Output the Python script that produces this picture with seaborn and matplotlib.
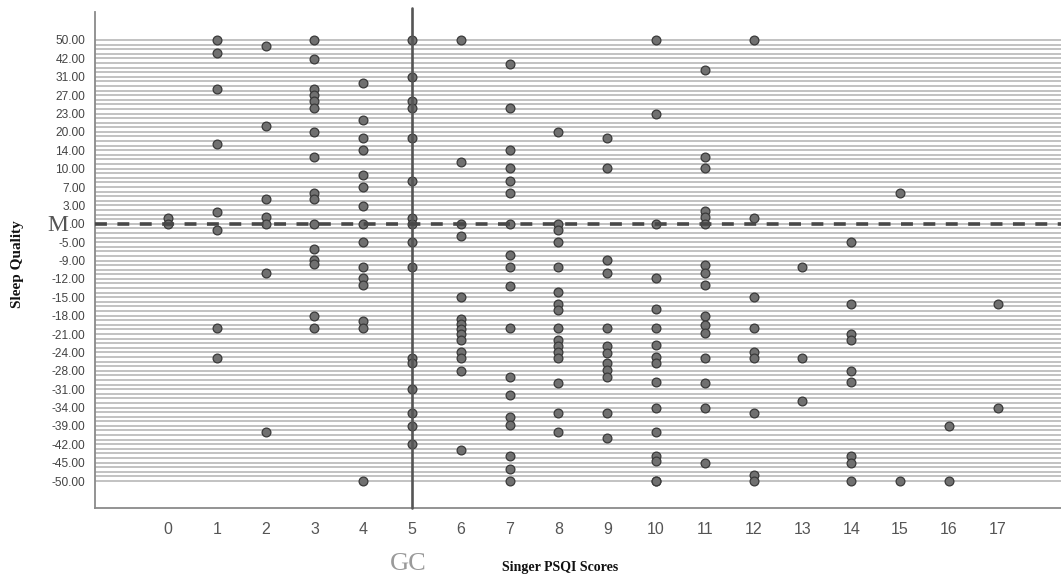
import numpy as np
import pandas as pd
import matplotlib
matplotlib.use("Agg")
import matplotlib.pyplot as plt
import seaborn as sns
from matplotlib.ticker import FixedLocator, FixedFormatter, NullFormatter

# ---- data: Sleep Quality values for each Singer PSQI score ----
q0 = [1.0, 0]
q1 = [50, 44.5, 28.3, 16, 2, -1.8, -20, -25.3]
q2 = [47.5, 21, 4.3, 1.1, 0, -11, -40]
q3 = [50, 41.6, 28.3, 27, 25.7, 24.3, 20, 12.6, 5.8, 4.3, 0, -6.4, -8.8, -9.6, -18, -20]
q4 = [29.6, 22, 17.9, 14.1, 9, 6.9, 2.9, 0, -5, -10.1, -11.9, -13, -18.9, -20, -50]
q5 = [50, 31, 25.7, 24.3, 17.9, 8, 0.9, 0, -5, -10.1, -25.3, -26.4, -31, -35.6, -39, -42]
q6 = [50, 11.4, 0, -3.4, -14.9, -18.5, -19.3, -20.2, -21, -22, -23.9, -25.3, -28, -43]
q7 = [38.4, 24.3, 14.1, 10.1, 8, 5.6, 0, -7.7, -10.1, -13.1, -20, -29, -32, -36.5, -38.8,
      -43.9, -46.6, -50]
q8 = [20, 0, -1.8, -5, -10.1, -14.1, -16.1, -17.1, -20, -22, -23, -23.9, -25.3, -30, -35.6, -40]
q9 = [17.9, 10.1, -8.9, -11, -20, -23, -24.1, -26.4, -27.8, -29, -35.6, -41]
q10 = [50, 23, 0, -11.9, -16.9, -20, -22.8, -25, -26.4, -29.9, -34, -40, -43.9, -44.8, -50, -50]
q11 = [35, 12.6, 10.1, 2.1, 1.1, 0, -9.8, -11, -13, -18, -19.6, -20.9, -25.3, -30, -34, -45]
q12 = [50, 1, -14.9, -20, -23.9, -25.3, -35.6, -48.3, -50]
q13 = [-10.1, -25.3, -33]
q14 = [-5, -16.1, -21, -22, -28, -29.9, -43.9, -45, -50]
q15 = [5.6, -50]
q16 = [-39, -50]
q17 = [-16.1, -34]

psqi_levels = list(range(18))
quality_columns = [q0, q1, q2, q3, q4, q5, q6, q7, q8, q9, q10, q11, q12, q13, q14, q15, q16, q17]

# labelled categories of the (categorical) sleep-quality axis, top to bottom
y_tick_values = [50, 42, 31, 27, 23, 20, 14, 10, 7, 3, 0, -5, -9, -12, -15, -18,
                 -21, -24, -28, -31, -34, -39, -42, -45, -50]
categories_per_label = 4

rows = []
for s, col in zip(psqi_levels, quality_columns):
    for v in col:
        rows.append((s, v))
df = pd.DataFrame(rows, columns=["Singer PSQI Scores", "Sleep Quality"])

# ---- categorical-position scale (piecewise linear between labelled categories) ----
n_lab = len(y_tick_values)
pos_desc = [categories_per_label * i for i in range(n_lab)]          # 0..96 top->bottom
idx_sorted = np.array([-10] + pos_desc + [pos_desc[-1] + 16], float)
val_for_idx = np.array([70] + y_tick_values + [-70], float)          # descending values
vals_asc = val_for_idx[::-1]
idx_for_vals_asc = idx_sorted[::-1]


def forward(v):
    return -np.interp(v, vals_asc, idx_for_vals_asc)


def inverse(p):
    return np.interp(-np.asarray(p, float), idx_sorted, val_for_idx)


# ---- figure ----
sns.set_style("white")
plt.rcParams["font.family"] = ["Liberation Sans", "DejaVu Sans"]

W, H = 1061, 580
fig = plt.figure(figsize=(W / 100, H / 100), dpi=100)
ax = fig.add_axes([95 / W, 1 - 508 / H, (W - 95) / W, (508 - 12) / H])

ax.set_yscale("function", functions=(forward, inverse))

sns.scatterplot(data=df, x="Singer PSQI Scores", y="Sleep Quality", ax=ax,
                s=40, color="#707070", edgecolor="#3a3a3a", linewidth=0.9,
                zorder=3, legend=False)

# limits
px0, dpx = 168.0, 48.8
ax.set_xlim((95 - px0) / dpx, (W - px0) / dpx)
top_idx = (12 - 40) / 4.594
bot_idx = (508 - 40) / 4.594
ax.set_ylim(inverse(-bot_idx), inverse(-top_idx))

# gridlines at every category
n_cat = pos_desc[-1] + 1
grid_vals = inverse(-np.arange(n_cat))
ax.yaxis.set_major_locator(FixedLocator(y_tick_values))
labels = [".00" if v == 0 else f"{v:.2f}" for v in y_tick_values]
ax.yaxis.set_major_formatter(FixedFormatter(labels))
ax.yaxis.set_minor_locator(FixedLocator(grid_vals))
ax.yaxis.set_minor_formatter(NullFormatter())
ax.grid(axis="y", which="both", color="#b4b4b4", linewidth=1.15, zorder=0)
ax.grid(axis="x", visible=False)
ax.set_axisbelow(True)

ax.set_xticks(psqi_levels)
ax.set_xticklabels([str(s) for s in psqi_levels])
ax.tick_params(axis="y", which="both", length=0, pad=7, labelsize=8.6, labelcolor="#444444")
ax.tick_params(axis="x", which="both", length=0, pad=10, labelsize=11.5, labelcolor="#555555")

# reference lines
ax.axvline(5, ymin=0, ymax=1.008, color="#555555", linewidth=1.9, zorder=4, clip_on=False)
ax.axhline(0, color="#474747", linewidth=2.6, linestyle=(0, (3.3, 2.9)), zorder=4)

for side in ["top", "right"]:
    ax.spines[side].set_visible(False)
for side in ["left", "bottom"]:
    ax.spines[side].set_color("#8a8a8a")
    ax.spines[side].set_linewidth(1.3)

ax.set_xlabel("")
ax.set_ylabel("")

serif = ["Liberation Serif", "DejaVu Serif"]
fig.text(18 / W, 1 - 264 / H, "Sleep Quality", rotation=90, ha="center", va="center",
         fontsize=11, fontweight="bold", family=serif, color="#111111")
fig.text(560 / W, 1 - 567 / H, "Singer PSQI Scores", ha="center", va="center",
         fontsize=10, fontweight="bold", family=serif, color="#111111")
fig.text(408 / W, 1 - 564 / H, "GC", ha="center", va="center",
         fontsize=19, family=serif, color="#9a9a9a")
fig.text(68 / W, 1 - 225 / H, "M", ha="right", va="center",
         fontsize=17, family=serif, color="#555555")

fig.savefig("out.png", dpi=100)
